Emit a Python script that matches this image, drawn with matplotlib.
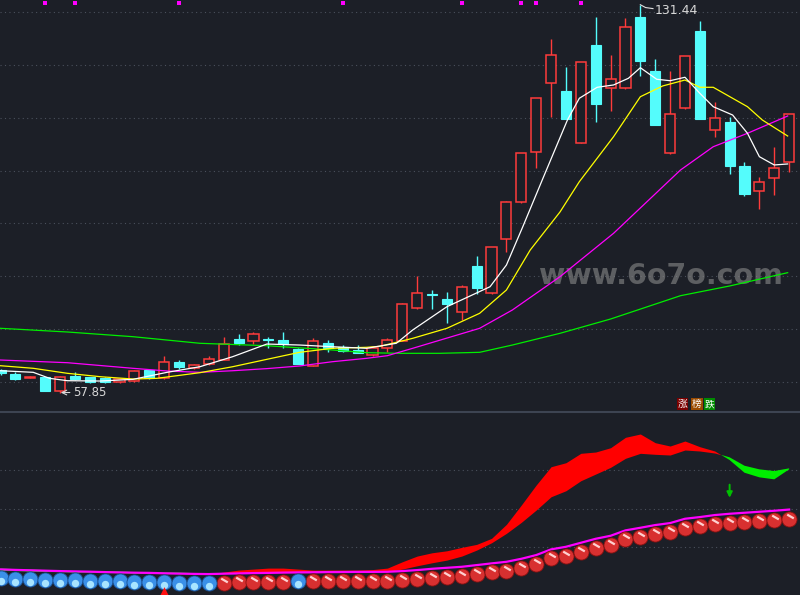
import matplotlib
matplotlib.use("Agg")
import matplotlib.pyplot as plt
import matplotlib.transforms as mtransforms
import numpy as np

plt.rcParams['font.family'] = ['DejaVu Sans', 'Noto Sans CJK SC']

# ---- candles (price) ----
opens = [62.22, 61.46, 60.76, 60.83, 58.29, 61.14, 60.83, 60.76, 60.00, 60.13,
         62.22, 60.64, 63.73, 62.65, 63.41, 64.11, 68.09, 67.77, 68.03, 67.90,
         66.20, 63.03, 67.33, 66.52, 66.01, 65.06, 66.33, 67.71, 73.91, 76.62,
         75.67, 73.27, 81.93, 76.87, 86.98, 94.00, 103.47, 116.55, 115.09, 105.18,
         123.81, 115.60, 115.60, 129.11, 118.88, 103.28, 111.81, 126.37, 107.64, 109.21,
         100.88, 96.08, 98.54, 101.58]
closes = [61.65, 60.51, 60.95, 58.29, 60.83, 60.51, 60.00, 60.00, 60.45, 62.08,
          60.64, 63.68, 62.79, 63.16, 64.24, 67.09, 67.33, 69.04, 67.94, 67.09,
          63.35, 67.71, 66.44, 65.87, 65.50, 66.33, 67.90, 74.67, 76.75, 76.50,
          74.78, 77.89, 77.81, 85.47, 94.05, 103.28, 113.71, 121.85, 109.73, 120.53,
          112.68, 117.31, 127.16, 120.83, 108.70, 110.67, 121.66, 109.73, 109.91, 100.93,
          95.57, 97.90, 100.55, 110.67]
highs = [62.40, 61.78, 61.08, 60.95, 61.14, 61.89, 60.95, 60.89, 60.57, 62.22,
         62.31, 64.87, 64.11, 63.35, 64.87, 68.47, 69.04, 69.42, 68.53, 69.42,
         66.33, 68.28, 67.90, 66.95, 66.95, 66.58, 68.28, 74.91, 80.03, 77.38,
         77.00, 78.32, 83.82, 85.53, 94.15, 103.34, 113.76, 124.94, 119.58, 120.58,
         129.17, 121.91, 128.86, 131.44, 121.15, 118.88, 121.72, 128.35, 113.00, 110.10,
         101.58, 98.85, 104.53, 110.73]
lows = [61.27, 60.38, 60.64, 58.29, 57.85, 60.32, 59.70, 59.81, 59.81, 60.00,
        60.51, 60.57, 62.41, 62.46, 63.11, 64.02, 66.95, 67.09, 66.33, 66.33,
        63.30, 62.98, 65.69, 65.69, 65.38, 64.87, 65.69, 67.62, 73.87, 73.78,
        71.18, 71.69, 76.62, 76.62, 84.64, 93.86, 100.44, 110.22, 109.69, 105.14,
        109.27, 111.36, 115.56, 117.99, 108.64, 103.24, 111.77, 109.69, 106.31, 99.30,
        95.19, 92.78, 95.32, 99.80]

# ---- moving averages (candle index, price) ----
ma5_x = [0, 2.2, 3.3, 4.5, 6.7, 8.9, 11.2, 13.4, 15.6, 17.9, 20.1, 22.3, 24.6, 26.6,
         27.7, 30, 31.6, 32.9, 34, 35.1, 36.5, 38.1, 38.9, 40.1, 41.2, 42.2, 43, 44.1,
         45, 46, 47, 47.9, 49.2, 50.2, 51, 52, 52.9]
ma5_y = [62.08, 61.78, 60.64, 60.19, 60.13, 60.45, 61.78, 62.84, 64.74, 67.14, 66.95,
         66.63, 66.33, 67.28, 69.80, 74.21, 76.30, 78.00, 82.11, 89.37, 98.85, 109.59,
         113.71, 115.79, 116.23, 117.50, 119.50, 117.31, 117.04, 117.69, 114.65, 112.11,
         110.54, 107.07, 102.64, 101.07, 101.26]
ma10_x = [0, 2.2, 4.5, 6.7, 8.9, 10.5, 13.4, 15.6, 17.9, 20.1, 22.3, 24.6, 25.5, 27.7,
          30, 32.2, 34, 35.6, 37.6, 38.9, 41.2, 43, 44.5, 46, 47, 47.9, 50.2, 51.2, 52.9]
ma10_y = [63.03, 62.54, 61.59, 60.95, 60.51, 60.64, 61.71, 62.84, 64.24, 65.57, 66.33,
          66.52, 66.71, 68.22, 70.12, 72.96, 77.38, 84.96, 92.16, 97.90, 106.43, 114.00,
          116.04, 117.17, 115.79, 115.79, 112.11, 109.59, 106.56]
ma30_x = [0, 4.5, 8.9, 11.2, 13.4, 15.6, 17.9, 20.1, 22.3, 24.6, 26, 27.7, 32.2, 34.4,
          37.6, 41.2, 45.7, 47.9, 50.2, 52.9]
ma30_y = [64.11, 63.60, 62.54, 62.03, 61.78, 62.08, 62.48, 62.98, 63.79, 64.43, 64.93,
          66.33, 70.12, 73.59, 79.90, 88.12, 100.12, 104.53, 107.07, 110.35]
ma60_x = [0, 4.5, 8.9, 13.4, 17.9, 22.3, 24.6, 26.8, 29.5, 32.2, 34.4, 37.6, 41, 45.7,
          49, 52.9]
ma60_y = [70.12, 69.42, 68.53, 67.28, 66.82, 66.01, 65.50, 65.38, 65.38, 65.57, 66.95,
          69.17, 71.88, 76.30, 78.14, 80.66]

signal_idx = [3, 5, 12, 23, 31, 35, 36, 39]

# ---- lower indicator ----
band_fast = [9.42, 9.42, 9.09, 8.77, 8.77, 8.44, 8.44, 8.12, 8.12, 7.79,
             7.79, 7.47, 7.47, 7.47, 7.47, 8.77, 10.06, 10.71, 11.36, 11.36,
             10.71, 10.06, 10.06, 10.06, 10.06, 10.39, 11.36, 15.45, 19.16, 21.30,
             22.60, 24.81, 26.75, 30.65, 39.74, 52.27, 65.26, 77.14, 79.74, 85.84,
             86.69, 89.48, 96.23, 98.38, 92.73, 90.58, 93.83, 90.13, 87.34, 81.49,
             73.25, 70.26, 68.96, 75.45]
band_slow = [11.04, 10.71, 10.39, 10.06, 9.74, 9.42, 9.42, 9.09, 9.09, 8.77,
             8.77, 8.44, 8.44, 8.12, 7.79, 7.79, 8.12, 8.12, 8.44, 8.44,
             8.44, 8.44, 8.44, 8.44, 8.57, 8.77, 8.96, 10.71, 12.86, 14.81,
             16.56, 19.16, 23.05, 27.79, 33.90, 41.04, 49.03, 57.66, 61.56, 68.05,
             72.40, 76.75, 82.60, 85.84, 85.19, 84.74, 87.99, 87.34, 86.04, 83.25,
             77.79, 75.45, 74.35, 76.10]
trend = [10.52, 10.19, 9.94, 9.68, 9.42, 9.22, 9.03, 8.77, 8.57, 8.38,
         8.25, 7.99, 7.79, 7.60, 7.47, 7.73, 7.92, 8.12, 8.25, 8.44,
         8.57, 8.64, 8.77, 8.83, 8.90, 8.90, 8.96, 9.42, 10.06, 10.91,
         11.56, 12.21, 13.31, 14.42, 15.45, 17.40, 19.81, 23.51, 25.19, 27.79,
         30.39, 32.34, 35.84, 37.53, 39.29, 40.58, 43.38, 44.48, 45.78, 46.62,
         47.27, 47.92, 48.57, 49.35]
ball_blue = [0, 1, 2, 3, 4, 5, 6, 7, 8, 9, 10, 11, 12, 13, 14, 20]

BG = '#1c1f27'
GRID = '#4a505c'
UP = '#ff3b3b'
DOWN = '#54fcfc'

fig = plt.figure(figsize=(8, 5.95), dpi=100, facecolor=BG)
ax = fig.add_axes([0, 184 / 595, 1, 411 / 595], facecolor=BG)
ax2 = fig.add_axes([0, 0, 1, 183 / 595], facecolor=BG)

for a in (ax, ax2):
    for s in a.spines.values():
        s.set_visible(False)
    a.set_xticks([])
    a.set_yticks([])
    a.set_xlim(-0.034, 53.73)

ax.set_ylim(54.45, 132.33)
for p in range(60, 131, 10):
    ax.axhline(p, color=GRID, lw=0.8, ls=(0, (1, 3)), zorder=0)

n = len(opens)
idx = np.arange(n)
o = np.array(opens); c = np.array(closes)
h = np.array(highs); l = np.array(lows)
up = c >= o
w = 0.68

# wicks
ax.vlines(idx[up], l[up], h[up], color=UP, lw=1.0, zorder=2)
ax.vlines(idx[~up], l[~up], h[~up], color=DOWN, lw=1.0, zorder=2)
# bodies
body_lo = np.minimum(o, c)
body_h = np.maximum(np.abs(c - o), 0.12)
ax.bar(idx[up], body_h[up], w, bottom=body_lo[up], facecolor=BG,
       edgecolor=UP, lw=1.1, zorder=3)
ax.bar(idx[~up], body_h[~up], w, bottom=body_lo[~up], facecolor=DOWN,
       edgecolor=DOWN, lw=0.8, zorder=3)

ax.plot(ma60_x, ma60_y, color='#00ee00', lw=0.9, zorder=4)
ax.plot(ma30_x, ma30_y, color='#ff00ff', lw=0.9, zorder=4)
ax.plot(ma10_x, ma10_y, color='#ffff00', lw=0.9, zorder=4)
ax.plot(ma5_x, ma5_y, color='#ffffff', lw=0.9, zorder=4)

ax.scatter(signal_idx, [131.85] * len(signal_idx), marker='s', s=9,
           color='#ff00ff', zorder=5, linewidths=0)

# high / low marks
ax.plot([43, 43.35, 43.85], [131.44, 130.9, 130.7], color='#e0e0e0', lw=0.8, zorder=5)
ax.text(43.95, 130.4, '131.44', color='#d8d8d8', fontsize=9, va='center', ha='left')
ax.annotate('57.85', xy=(4.05, 57.95), xytext=(4.85, 57.95), color='#d8d8d8',
            fontsize=8.5, va='center', ha='left',
            arrowprops=dict(arrowstyle='->', color='#d8d8d8', lw=0.8,
                            shrinkA=0, shrinkB=0))

ax.text(44.4, 80.0, 'www.6o7o.com', color='#8a8a8a', alpha=0.6, fontsize=20.5,
        fontweight='bold', ha='center', va='center', zorder=1)

# tags above separator
for xi, ch, col in [(45.83, '涨', '#7a0000'), (46.8, '榜', '#9a4a00'), (47.65, '跌', '#008a00')]:
    ax.text(xi, 55.77, ch, color='white', fontsize=7, ha='center', va='center',
            family=['Noto Sans CJK SC', 'DejaVu Sans'],
            bbox=dict(boxstyle='square,pad=0.08', fc=col, ec='none'))

# ---- lower panel ----
ax2.set_ylim(-6.10, 112.66)
for v in (25, 50, 75):
    ax2.axhline(v, color=GRID, lw=0.8, ls=(0, (1, 3)), zorder=0)
ax2.spines['top'].set_visible(True)
ax2.spines['top'].set_color('#3d4452')
ax2.spines['top'].set_linewidth(1.5)

fa = np.array(band_fast); sl = np.array(band_slow)
ax2.fill_between(idx, fa, sl, where=fa >= sl, interpolate=True, color='#ff0000', lw=0, zorder=2)
ax2.fill_between(idx, fa, sl, where=fa < sl, interpolate=True, color='#00ee00', lw=0, zorder=2)
ax2.plot(idx, trend, color='#ff00ff', lw=1.6, zorder=3)

off = ax2.transData + mtransforms.ScaledTranslation(0, -9 / 100, fig.dpi_scale_trans)
off_hi = ax2.transData + mtransforms.ScaledTranslation(0.5 / 100, -6 / 100, fig.dpi_scale_trans)
tr = np.array(trend)
is_blue = np.isin(idx, ball_blue)
ax2.scatter(idx[~is_blue], tr[~is_blue], s=118, color='#d83030', edgecolors='#8a1010',
            linewidths=0.6, transform=off, zorder=4)
ax2.scatter(idx[is_blue], tr[is_blue], s=118, color='#3a90e8', edgecolors='#1a4f90',
            linewidths=0.6, transform=off, zorder=4)
ax2.scatter(idx[~is_blue], tr[~is_blue], s=30, marker=(2, 0, 60), color='#ffd0d0',
            linewidths=1.6, transform=off_hi, zorder=5)
ax2.scatter(idx[is_blue], tr[is_blue], s=28, color='#a8e4ff', linewidths=0,
            transform=mtransforms.offset_copy(ax2.transData, fig=fig, x=0, y=-12, units='dots'),
            zorder=5)

ax2.scatter([11], [-3.3], marker='^', s=40, color='#ff1010', zorder=6, linewidths=0)
ax2.annotate('', xy=(49, 57.0), xytext=(49, 65.5),
             arrowprops=dict(arrowstyle='-|>', color='#00c000', lw=1.4,
                             mutation_scale=8, shrinkA=0, shrinkB=0))

fig.savefig('out.png', dpi=100, facecolor=BG)
